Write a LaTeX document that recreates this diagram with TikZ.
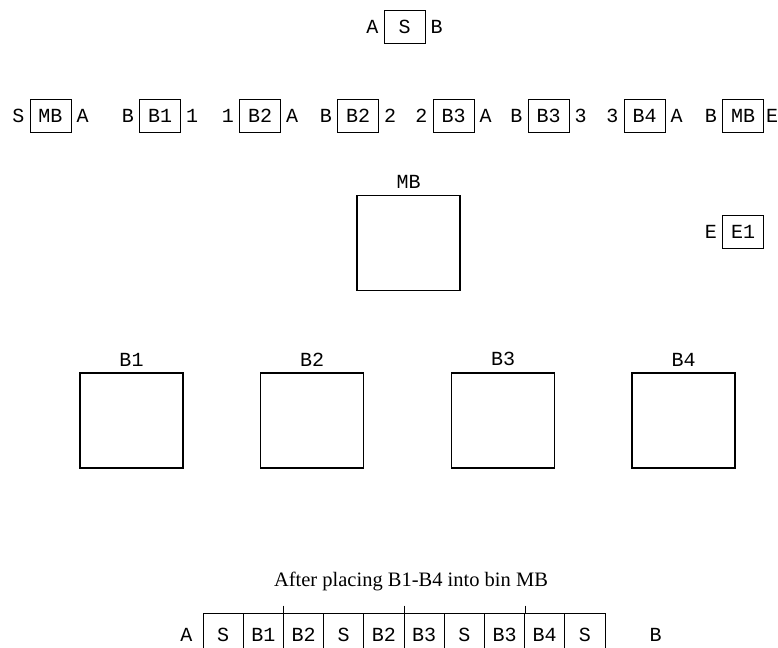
\documentclass[tikz,border=0pt]{standalone}
\usepackage{fontspec}
\setmainfont{Liberation Serif}
\newfontfamily\slotfont{Liberation Mono}
\usetikzlibrary{positioning}

\begin{document}
\begin{tikzpicture}[
  x=1pt, y=-1pt,
  node distance=5pt,
  cell/.style={rectangle, draw, line width=1pt, minimum width=41pt,
               minimum height=33pt, inner sep=0pt,
               font=\slotfont\fontsize{20}{20}\selectfont},
  tag/.style={inner sep=0pt, font=\slotfont\fontsize{20}{20}\selectfont},
  bin/.style={rectangle, draw, line width=1.4pt, minimum width=103pt,
              minimum height=95pt},
  slot/.style={cell, minimum width=40.2pt, minimum height=44pt},
  divider/.style={line width=1pt},
  capt/.style={inner sep=0pt, font=\fontsize{20.5}{20.5}\selectfont}
]
  \useasboundingbox (0,0) rectangle (778,647);

  % top item
  \node[cell] (top) at (404.5,27) {S};
  \node[tag, left=of top] (topl) {A};
  \node[tag, right=of top] (topr) {B};

  % row of items
  \node[cell] (r1) at (50.5,116) {MB};
  \node[tag, left=of r1] (r1l) {S};
  \node[tag, right=of r1] (r1r) {A};
  \node[cell] (r2) at (160,116) {B1};
  \node[tag, left=of r2] (r2l) {B};
  \node[tag, right=of r2] (r2r) {1};
  \node[cell] (r3) at (260,116) {B2};
  \node[tag, left=of r3] (r3l) {1};
  \node[tag, right=of r3] (r3r) {A};
  \node[cell] (r4) at (358,116) {B2};
  \node[tag, left=of r4] (r4l) {B};
  \node[tag, right=of r4] (r4r) {2};
  \node[cell] (r5) at (453.5,116) {B3};
  \node[tag, left=of r5] (r5l) {2};
  \node[tag, right=of r5] (r5r) {A};
  \node[cell] (r6) at (548.5,116) {B3};
  \node[tag, left=of r6] (r6l) {B};
  \node[tag, right=of r6] (r6r) {3};
  \node[cell] (r7) at (644.5,116) {B4};
  \node[tag, left=of r7] (r7l) {3};
  \node[tag, right=of r7] (r7r) {A};
  \node[cell] (r8) at (743,116) {MB};
  \node[tag, left=of r8] (r8l) {B};
  \node[tag, right=2pt of r8] (r8r) {E};

  % single item
  \node[cell] (e1) at (743,232) {E1};
  \node[tag, left=of e1] (e1l) {E};

  % bins
  \node[bin] (mb) at (408.5,243) {};
  \node[tag, above=6pt of mb] (mbname) {MB};
  \node[bin] (b1) at (131.5,420.5) {};
  \node[tag, above=6pt of b1] (b1name) {B1};
  \node[bin] (b2) at (312,420.5) {};
  \node[tag, above=6pt of b2] (b2name) {B2};
  \node[bin] (b3) at (503,420.5) {};
  \node[tag, above=6pt of b3] (b3name) {B3};
  \node[bin] (b4) at (683.5,420.5) {};
  \node[tag, above=6pt of b4] (b4name) {B4};

  % result
  \node[capt] (caption) at (411,581) {After placing B1-B4 into bin MB};
  \node[slot] (s1) at (223.1,635) {S};
  \node[slot] (s2) at (263.3,635) {B1};
  \node[slot] (s3) at (303.5,635) {B2};
  \node[slot] (s4) at (343.7,635) {S};
  \node[slot] (s5) at (383.9,635) {B2};
  \node[slot] (s6) at (424.1,635) {B3};
  \node[slot] (s7) at (464.3,635) {S};
  \node[slot] (s8) at (504.5,635) {B3};
  \node[slot] (s9) at (544.7,635) {B4};
  \node[slot] (s10) at (584.9,635) {S};
  \node[tag, left=10pt of s1] (sl) {A};
  \node[tag, right=44pt of s10] (sr) {B};
  \draw[divider] ([yshift=7pt]s2.north east) -- (s2.north east);
  \draw[divider] ([yshift=7pt]s5.north east) -- (s5.north east);
  \draw[divider] ([yshift=7pt]s8.north east) -- (s8.north east);

\end{tikzpicture}
\end{document}
